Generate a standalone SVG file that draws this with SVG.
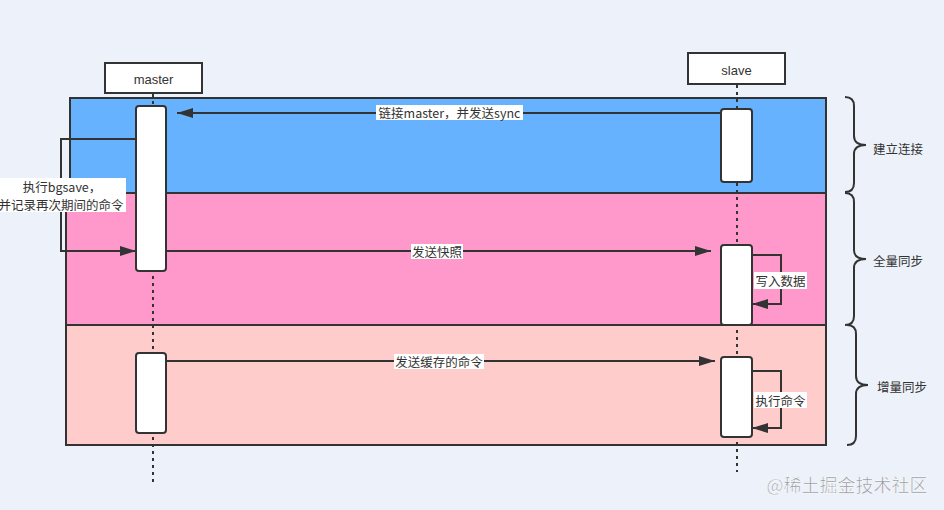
<svg xmlns="http://www.w3.org/2000/svg" width="944" height="510" viewBox="0 0 944 510">
<defs>
<marker id="arr" viewBox="0 0 16 10" refX="16" refY="5" markerWidth="16" markerHeight="10" markerUnits="userSpaceOnUse" orient="auto">
<path d="M0,0 L16,5 L0,10 Z" fill="#333"/>
</marker>
<style>
.t{font-family:"Noto Sans CJK SC","Liberation Sans",sans-serif;font-size:12.5px;fill:#333;text-anchor:middle;dominant-baseline:central}
.hdr{font-family:"Liberation Sans","Noto Sans",sans-serif;font-size:13px;fill:#333;text-anchor:middle;dominant-baseline:central}
.box{fill:#fff;stroke:#333;stroke-width:2}
.act{fill:#fff;stroke:#333;stroke-width:2}
.life{stroke:#333;stroke-width:2;stroke-dasharray:3 4;fill:none}
.ln{stroke:#333;stroke-width:2;fill:none}
.band{stroke:#333;stroke-width:2}
.lbl{fill:#fff}
.brace{stroke:#333;stroke-width:2;fill:none}
</style>
</defs>
<rect width="944" height="510" fill="#EDF2FA"/>
<g id="bands">
<rect class="band" x="70" y="98" width="756" height="95" fill="#66B2FF"/>
<rect class="band" x="66" y="193" width="760" height="132" fill="#FF99CC"/>
<rect class="band" x="66" y="325" width="760" height="120" fill="#FFCCCC"/>
</g>
<g id="lifelines">
<line class="life" x1="153" y1="94" x2="153" y2="482"/>
<line class="life" x1="737" y1="85" x2="737" y2="472"/>
</g>
<g id="master">
<rect class="box" x="105" y="63" width="97" height="30"/>
<text class="hdr" x="153.5" y="79">master</text>
</g>
<g id="slave">
<rect class="box" x="688" y="53" width="97" height="31"/>
<text class="hdr" x="736.5" y="70">slave</text>
</g>
<g id="master-act1"><rect class="act" x="136" y="106" width="30" height="165" rx="3"/></g>
<g id="master-act2"><rect class="act" x="136" y="353" width="30" height="80" rx="3"/></g>
<g id="slave-act1"><rect class="act" x="721" y="109" width="31" height="73" rx="3"/></g>
<g id="slave-act2"><rect class="act" x="721" y="245" width="31" height="80" rx="3"/></g>
<g id="slave-act3"><rect class="act" x="721" y="357" width="31" height="80" rx="3"/></g>
<g id="connectors">
<line class="ln" x1="721" y1="113" x2="177" y2="113" marker-end="url(#arr)"/>
<rect class="lbl" x="376" y="105" width="147" height="15"/>
<text class="t" x="449.5" y="112.5">链接master，并发送sync</text>

<polyline class="ln" points="136,139 61,139 61,251 136,251" marker-end="url(#arr)"/>
<rect class="lbl" x="-4" y="178" width="130" height="34"/>
<text class="t" x="62" y="186" font-size="12">执行bgsave，</text>
<text class="t" x="61" y="204" font-size="12">并记录再次期间的命令</text>

<line class="ln" x1="166" y1="251" x2="711" y2="251" marker-end="url(#arr)"/>
<rect class="lbl" x="411" y="244" width="52" height="15"/>
<text class="t" x="437" y="251">发送快照</text>

<polyline class="ln" points="752,255 781,255 781,304 752,304" marker-end="url(#arr)"/>
<rect class="lbl" x="754" y="272" width="53" height="17"/>
<text class="t" x="780.5" y="280.5">写入数据</text>

<line class="ln" x1="166" y1="361" x2="715" y2="361" marker-end="url(#arr)"/>
<rect class="lbl" x="394" y="354" width="90" height="15"/>
<text class="t" x="439" y="361">发送缓存的命令</text>

<polyline class="ln" points="752,371 781,371 781,428 752,428" marker-end="url(#arr)"/>
<rect class="lbl" x="754" y="392" width="53" height="16"/>
<text class="t" x="780.5" y="400">执行命令</text>
</g>
<g id="brace1">
<path class="brace" d="M845,97 Q854,97 854,106 L854,136 Q854,145 866,145 Q854,145 854,154 L854,183 Q854,192 845,192"/>
<text class="t" x="898" y="148">建立连接</text>
</g>
<g id="brace2">
<path class="brace" d="M845,193 Q854,193 854,202 L854,250 Q854,259 866,259 Q854,259 854,268 L854,316 Q854,325 845,325"/>
<text class="t" x="898" y="260">全量同步</text>
</g>
<g id="brace3">
<path class="brace" d="M847,325 Q856,325 856,334 L856,376 Q856,385 868,385 Q856,385 856,394 L856,436 Q856,445 847,445"/>
<text class="t" x="902" y="386">增量同步</text>
</g>
<text x="847" y="484" font-family="'Noto Sans CJK SC',sans-serif" font-size="18" fill="#6f747d" fill-opacity="0.8" stroke="#fff" stroke-width="0.5" text-anchor="middle" dominant-baseline="central">@稀土掘金技术社区</text>
</svg>
